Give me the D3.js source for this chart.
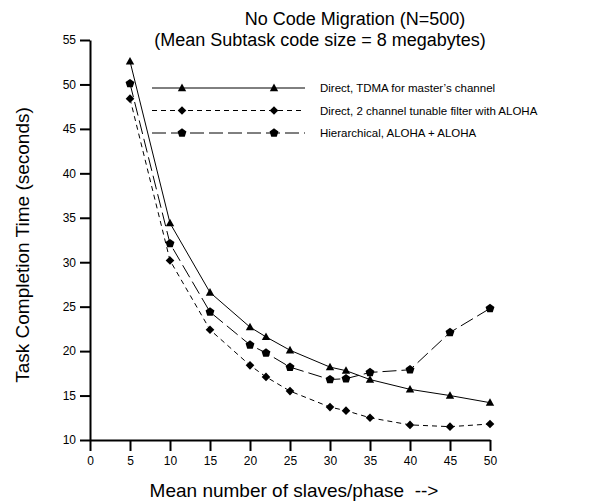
<!DOCTYPE html>
<html>
<head>
<meta charset="utf-8">
<script src="https://cdn.jsdelivr.net/npm/d3@7"></script>
<style>
  body { margin: 0; background: #fff; }
  svg text { font-family: "Liberation Sans", Arial, sans-serif; fill: #000; }
</style>
</head>
<body>
<svg id="chart" width="604" height="504"></svg>
<script>
// slaves per phase
const slaves = [5, 10, 15, 20, 22, 25, 30, 32, 35, 40, 45, 50];

// task completion time (seconds)
const tdma = [52.6, 34.4, 26.6, 22.7, 21.6, 20.1, 18.2, 17.8, 16.8, 15.7, 15.0, 14.2];
const tunable = [48.4, 30.2, 22.4, 18.4, 17.1, 15.5, 13.7, 13.3, 12.5, 11.7, 11.5, 11.8];
const hierarchical = [50.1, 32.1, 24.4, 20.7, 19.8, 18.2, 16.8, 16.9, 17.6, 17.9, 22.1, 24.8];

const xTicks = [0, 5, 10, 15, 20, 25, 30, 35, 40, 45, 50];
const yTicks = [10, 15, 20, 25, 30, 35, 40, 45, 50, 55];

const seriesNames = [
    'Direct, TDMA for master\u2019s channel',
    'Direct, 2 channel tunable filter with ALOHA',
    'Hierarchical, ALOHA + ALOHA'
];

const svg = d3.select('#chart');

const x = d3.scaleLinear().domain([0, 50]).range([90, 490]);
const y = d3.scaleLinear().domain([10, 55]).range([440, 40]);

// custom marker shapes
const triangle = {
    draw(ctx, size) {
        const r = Math.sqrt(size) / 2;
        ctx.moveTo(0, -r * 1.1);
        ctx.lineTo(r * 1.05, r * 0.8);
        ctx.lineTo(-r * 1.05, r * 0.8);
        ctx.closePath();
    }
};
const diamond = {
    draw(ctx, size) {
        const r = Math.sqrt(size) / 2 * 1.15;
        ctx.moveTo(0, -r);
        ctx.lineTo(r, 0);
        ctx.lineTo(0, r);
        ctx.lineTo(-r, 0);
        ctx.closePath();
    }
};
const pentagon = {
    draw(ctx, size) {
        const r = Math.sqrt(size) / 2 * 1.1;
        for (let i = 0; i < 5; i++) {
            const a = -Math.PI / 2 + i * 2 * Math.PI / 5;
            const px = r * Math.cos(a), py = r * Math.sin(a);
            if (i === 0) ctx.moveTo(px, py); else ctx.lineTo(px, py);
        }
        ctx.closePath();
    }
};

const series = [
    { name: seriesNames[0], values: tdma, dash: null, shape: triangle, size: 64 },
    { name: seriesNames[1], values: tunable, dash: '5,4', shape: diamond, size: 56 },
    { name: seriesNames[2], values: hierarchical, dash: '14,5', shape: pentagon, size: 72 }
];

// title
svg.append('text')
    .attr('x', 355).attr('y', 25)
    .attr('text-anchor', 'middle')
    .style('font-size', '18px')
    .text('No Code Migration (N=500)');
svg.append('text')
    .attr('x', 320).attr('y', 46)
    .attr('text-anchor', 'middle')
    .style('font-size', '18px')
    .text('(Mean Subtask code size = 8 megabytes)');

// axes
const xAxis = d3.axisBottom(x).tickValues(xTicks).tickSize(11).tickPadding(5).tickSizeOuter(0);
const yAxis = d3.axisLeft(y).tickValues(yTicks).tickSize(10).tickPadding(4).tickSizeOuter(0);

const gx = svg.append('g').attr('transform', 'translate(0,440)').call(xAxis);
const gy = svg.append('g').attr('transform', 'translate(90,0)').call(yAxis);

[gx, gy].forEach(g => {
    g.select('.domain').attr('stroke', '#000').attr('stroke-width', 2);
    g.selectAll('.tick line').attr('stroke', '#000').attr('stroke-width', 2);
    g.selectAll('.tick text').style('font-size', '12px').style('font-family', '"Liberation Sans", Arial, sans-serif');
});

// axis titles
svg.append('text')
    .attr('x', 294).attr('y', 497)
    .attr('text-anchor', 'middle')
    .attr('xml:space', 'preserve')
    .style('white-space', 'pre')
    .style('font-size', '19px')
    .text('Mean number of slaves/phase  -->');

svg.append('text')
    .attr('transform', 'translate(29,245) rotate(-90)')
    .attr('text-anchor', 'middle')
    .style('font-size', '19px')
    .text('Task Completion Time (seconds)');

// series
const line = d3.line()
    .x((d, i) => x(slaves[i]))
    .y(d => y(d));

series.forEach(s => {
    svg.append('path')
        .datum(s.values)
        .attr('fill', 'none')
        .attr('stroke', '#000')
        .attr('stroke-width', 1)
        .attr('stroke-dasharray', s.dash)
        .attr('d', line);

    svg.append('g').selectAll('path')
        .data(s.values)
        .join('path')
        .attr('transform', (d, i) => `translate(${x(slaves[i])},${y(d)})`)
        .attr('d', d3.symbol().type(s.shape).size(s.size))
        .attr('fill', '#000');
});

// legend
const legendY = [88, 110.5, 133];
series.forEach((s, i) => {
    const g = svg.append('g').attr('transform', `translate(0,${legendY[i]})`);
    g.append('line')
        .attr('x1', 152).attr('x2', 305)
        .attr('stroke', '#000')
        .attr('stroke-width', 1)
        .attr('stroke-dasharray', s.dash);
    [182, 274].forEach(mx => {
        g.append('path')
            .attr('transform', `translate(${mx},0)`)
            .attr('d', d3.symbol().type(s.shape).size(s.size))
            .attr('fill', '#000');
    });
    g.append('text')
        .attr('x', 320).attr('y', 4)
        .style('font-size', '11.5px')
        .text(s.name);
});
</script>
</body>
</html>
